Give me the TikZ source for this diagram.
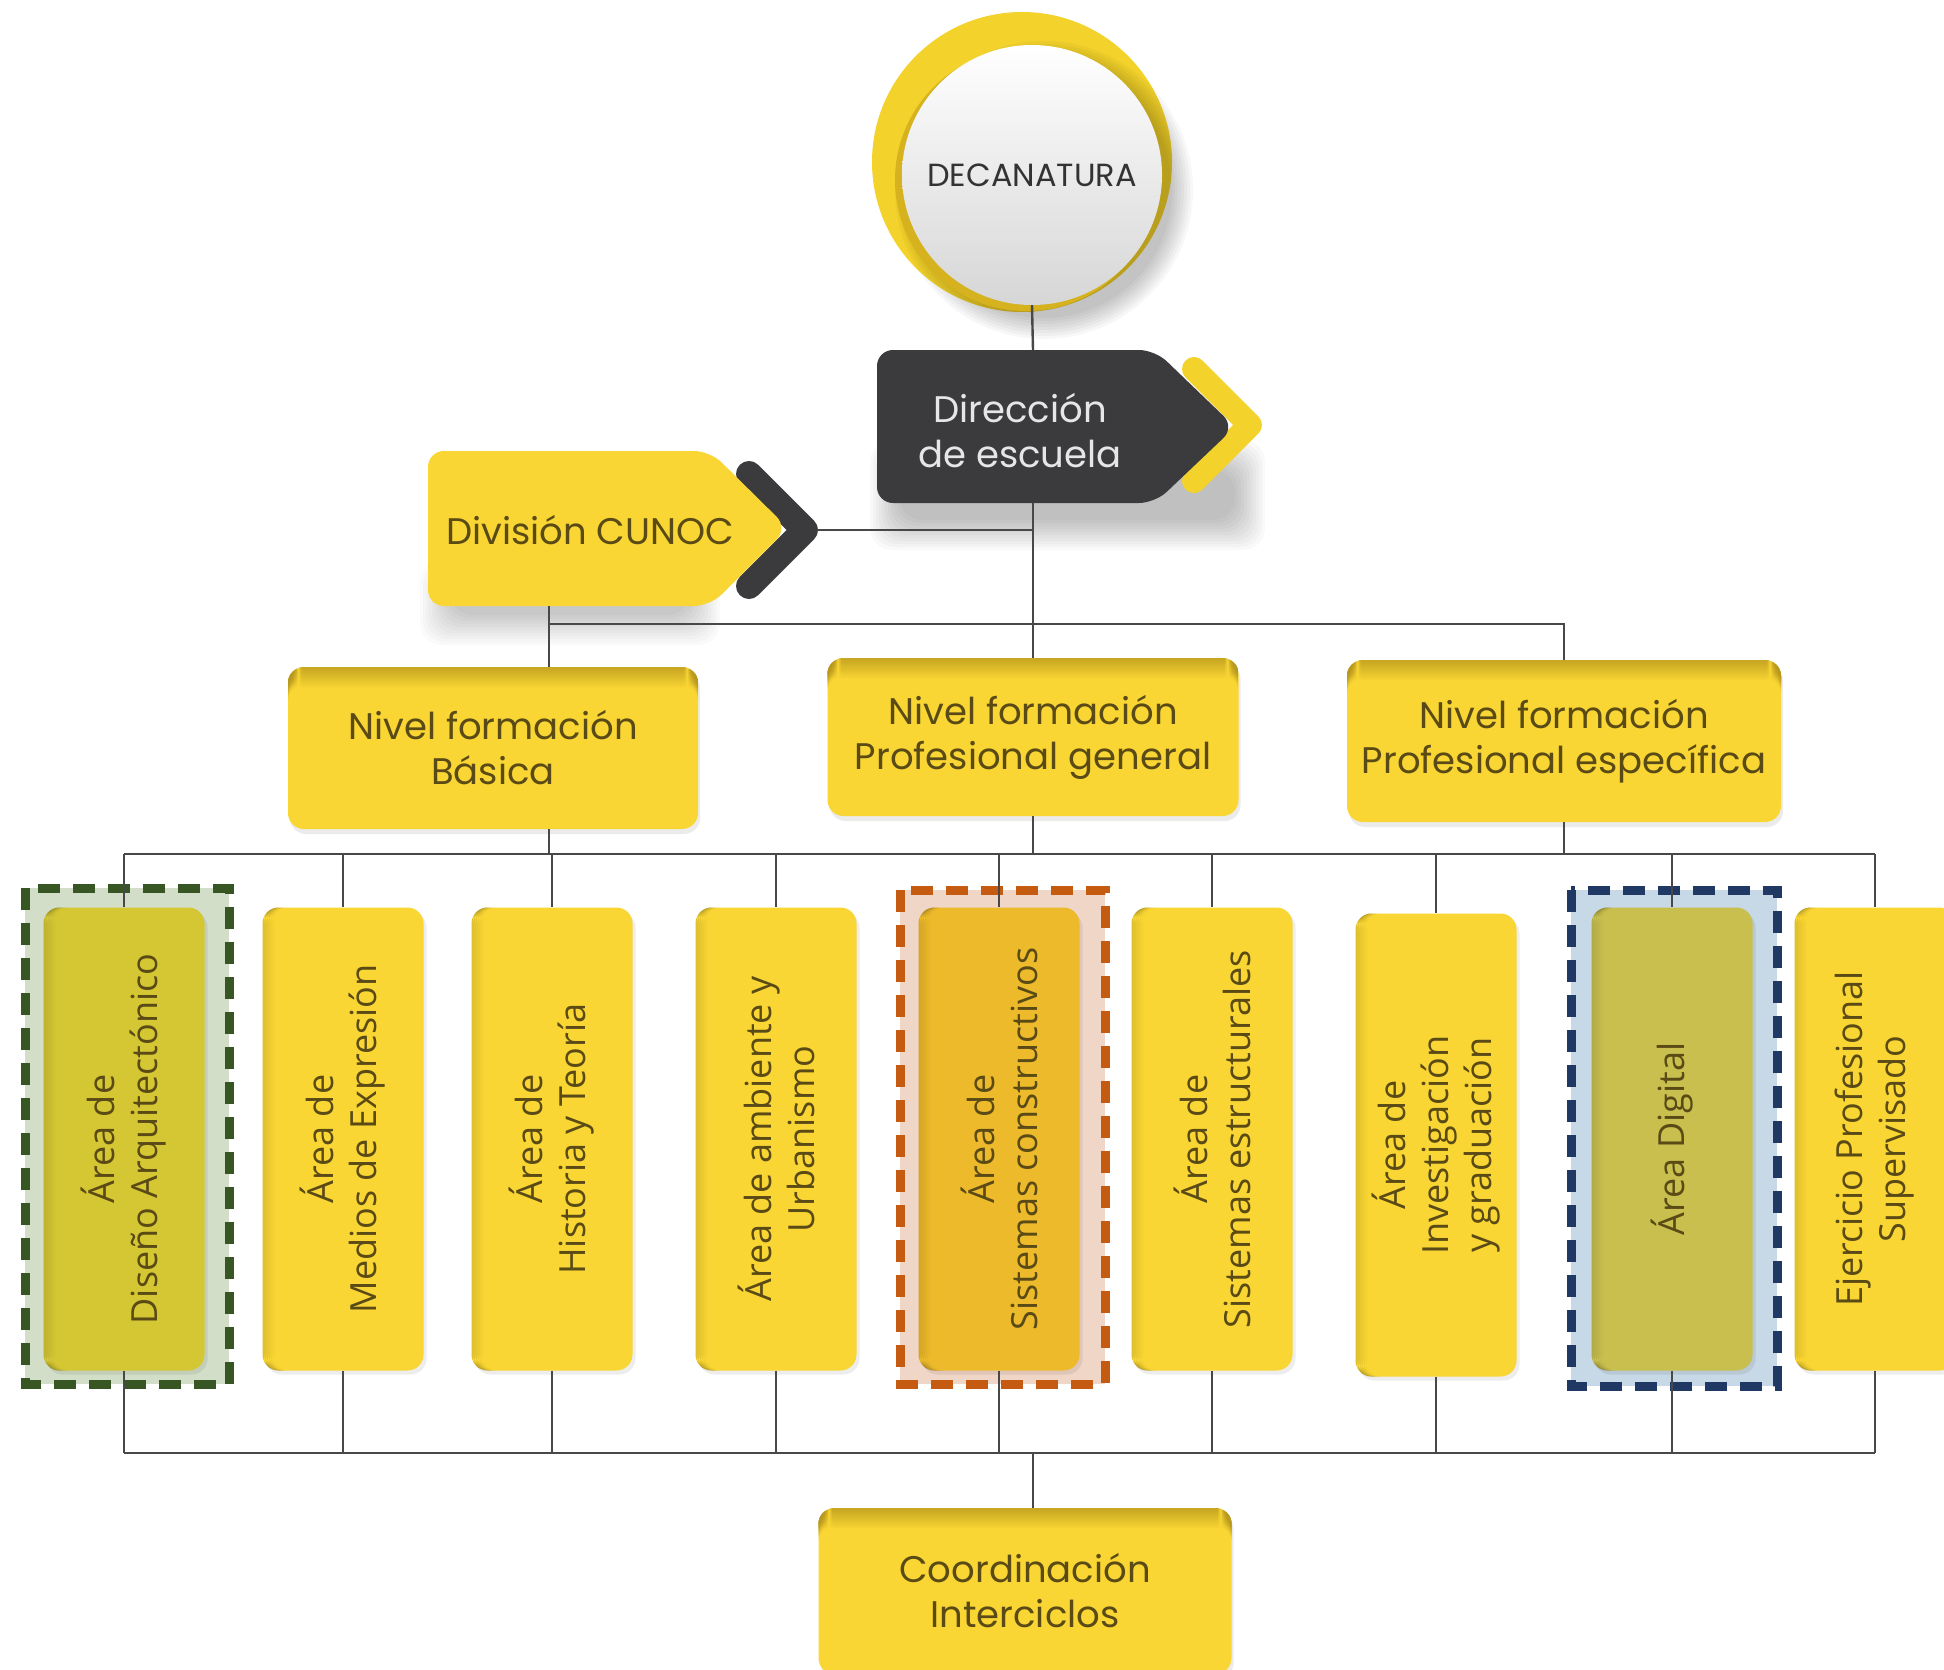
\documentclass[tikz,border=0pt]{standalone}
\usepackage{fontspec}
\setmainfont{Poppins}
\newfontfamily\osans{Open Sans}
\usetikzlibrary{calc}
\definecolor{yel}{HTML}{F9D633}
\definecolor{yeldark}{HTML}{B8981E}
\definecolor{ringc}{HTML}{F3D22B}
\definecolor{ringdark}{HTML}{D6B21E}
\definecolor{darkbox}{HTML}{3B3B3E}
\definecolor{linec}{HTML}{484848}
\definecolor{txt}{HTML}{5A4A16}
\definecolor{dirtxt}{HTML}{E6E6E6}
\definecolor{gfill}{HTML}{D2DEC8}
\definecolor{gdash}{HTML}{375623}
\definecolor{gbox}{HTML}{D5C733}
\definecolor{ofill}{HTML}{F0D6C6}
\definecolor{odash}{HTML}{C55A11}
\definecolor{obox}{HTML}{EDBA2B}
\definecolor{bfill}{HTML}{C7D8E6}
\definecolor{bdash}{HTML}{1F3864}
\definecolor{bbox}{HTML}{C8BF4E}
\newcommand{\sshadow}[5]{%
  \foreach \d in {0,3,...,30}{\fill[black,opacity=#5,rounded corners=22pt] ({#1-\d},{#2-\d}) rectangle ({#3+\d},{#4+\d});}}
\begin{document}
\begin{tikzpicture}[x=1pt,y=-1pt,
  conn/.style={draw=linec,line width=2.4pt},
  nivel/.style={rectangle,fill=yel,rounded corners=16pt,inner sep=0pt,
    minimum width=#1,minimum height=162pt,align=center,text=txt,
    font=\fontsize{37}{45}\selectfont,
    preaction={fill=black,opacity=0.08,transform canvas={shift={(2pt,-5pt)}}},
    path picture={\foreach \i in {0,...,9}{\fill[yeldark,opacity={0.75*(1-\i/10)}]
      ([yshift={-2*\i*1pt}]path picture bounding box.north west) rectangle
      ([yshift={-2*\i*1pt-2pt}]path picture bounding box.north east);}}},
  areabox/.style={rectangle,fill=#1,rounded corners=16pt,inner sep=0pt,
    minimum width=161pt,minimum height=463pt,
    preaction={fill=black,opacity=0.07,transform canvas={shift={(3pt,-4pt)}}},
    path picture={\foreach \i in {0,...,5}{\fill[black,opacity={0.10*(1-\i/6)}]
      ([xshift={2*\i*1pt}]path picture bounding box.south west) rectangle
      ([xshift={2*\i*1pt+2pt}]path picture bounding box.north west);}}},
  areabox/.default=yel,
  vtext/.style={rotate=90,align=center,text=txt,inner sep=0pt,
    font=\osans\fontsize{36}{43}\selectfont},
  hl/.style 2 args={draw=#1,fill=#2,line width=9pt,dash pattern=on 22pt off 13pt},
  chev/.style={line width=#1,line cap=round,line join=round}
]
\fill[white] (0,0) rectangle (1944,1670);
\useasboundingbox (0,0) rectangle (1944,1670);
\clip (0,0) rectangle (1944,1670);

% ---------- DECANATURA ----------
\fill[ringc] (1022,162) circle (150);
\foreach \r in {0,3,...,21}{\fill[black,opacity=0.032] (1044,190) circle ({128+\r});}
\fill[ringdark] (1026,180) circle (131);
\node[circle,top color=white,bottom color=black!16,minimum size=260pt,inner sep=0pt,text=black!80,
  font=\fontsize{32}{36}\selectfont] (deca) at (1032,175) {DECANATURA};

% ---------- Dirección de escuela ----------
\sshadow{900}{470}{1235}{520}{0.022}
\draw[ringc,chev=24pt] (1194,369) -- (1250,425) -- (1194,481);
\fill[darkbox,rounded corners=16pt] (877,350) -- (1155,350) -- (1235,427) -- (1155,503) -- (877,503) -- cycle;
\node[align=center,text=dirtxt,font=\fontsize{37}{45}\selectfont] (dir) at (1020,431) {Dirección\\de escuela};
\coordinate (dirN) at (1033,350);
\coordinate (dirS) at (1033,503);

% ---------- División CUNOC ----------
\sshadow{450}{590}{690}{615}{0.02}
\draw[darkbox,chev=26pt] (749,474) -- (805,530) -- (749,586);
\fill[yel,rounded corners=16pt] (428,451) -- (710,451) -- (788,528) -- (710,606) -- (428,606) -- cycle;
\node[text=txt,font=\fontsize{37}{45}\selectfont] (div) at (590,530) {División CUNOC};
\coordinate (divE) at (817,530);
\coordinate (divS) at (549,606);

% ---------- bus coordinates ----------
\coordinate (b1) at (0,624);
\coordinate (b2) at (0,854);
\coordinate (b3) at (0,1453);

% ---------- highlight frames ----------
\draw[hl={gdash}{gfill}] (25,888) rectangle (229,1384);
\draw[hl={odash}{ofill}] (900,890) rectangle (1105,1384);
\draw[hl={bdash}{bfill}] (1571,890) rectangle (1777,1386);

% ---------- Nivel boxes ----------
\node[nivel=410pt] (n1) at (493,748) {Nivel formación\\Básica};
\node[nivel=411pt,minimum height=158pt] (n2) at (1033,737) {Nivel formación\\Profesional general};
\node[nivel=434pt] (n3) at (1564,741) {Nivel formación\\Profesional específica};

% ---------- Area boxes ----------
\node[areabox=gbox] (a1) at (124,1139) {};
\node[areabox] (a2) at (343,1139) {};
\node[areabox] (a3) at (552,1139) {};
\node[areabox] (a4) at (776,1139) {};
\node[areabox=obox] (a5) at (999,1139) {};
\node[areabox] (a6) at (1212,1139) {};
\node[areabox] (a7) at (1436,1145) {};
\node[areabox=bbox] (a8) at (1672,1139) {};
\node[areabox] (a9) at (1875,1139) {};

% ---------- Coordinación ----------
\node[nivel=413pt,minimum height=166pt] (coord) at (1025,1591) {Coordinación\\Interciclos};

% ---------- connectors ----------
\draw[conn] (deca.south) -- (dirN);
\draw[conn] (dirS) -- (n2.north);
\draw[conn] (divE) -- (divE -| dirS);
\draw[conn] (divS) -- (divS |- n1.north);
\draw[conn] (divS |- b1) -- (n3.north |- b1) -- (n3.north);
\draw[conn] (divS |- n1.south) -- (divS |- b2);
\draw[conn] (n2.south) -- (n2.south |- b2);
\draw[conn] (n3.south) -- (n3.south |- b2);
\draw[conn] (a1.north |- b2) -- (a9.north |- b2);
\draw[conn] (a1.south |- b3) -- (a9.south |- b3);
\foreach \a in {a1,a2,a3,a4,a5,a6,a7,a8,a9}{
  \draw[conn] (\a.north |- b2) -- (\a.north);
  \draw[conn] (\a.south) -- (\a.south |- b3);
}
\draw[conn] (dirS |- b3) -- (dirS |- coord.north);

% ---------- vertical texts ----------
\node[vtext] (t1) at (a1.center) {Área de\\Diseño Arquitectónico};
\node[vtext] (t2) at (a2.center) {Área de\\Medios de Expresión};
\node[vtext] (t3) at (a3.center) {Área de\\Historia y Teoría};
\node[vtext] (t4) at (a4.center) {Área de ambiente y\\Urbanismo};
\node[vtext] (t5) at (a5.center) {Área de\\Sistemas constructivos};
\node[vtext] (t6) at (a6.center) {Área de\\Sistemas estructurales};
\node[vtext] (t7) at (a7.center) {Área de\\Investigación\\y graduación};
\node[vtext] (t8) at (a8.center) {Área Digital};
\node[vtext] (t9) at (a9.center) {Ejercicio Profesional\\Supervisado};
\end{tikzpicture}
\end{document}
